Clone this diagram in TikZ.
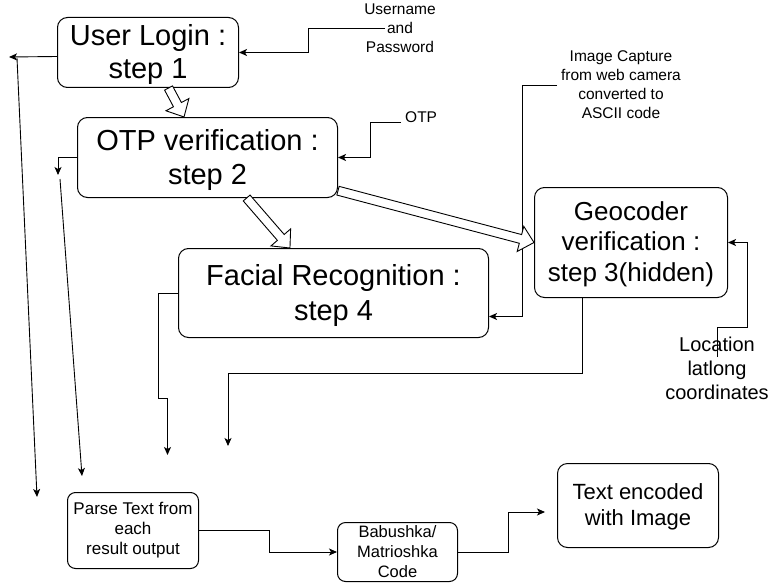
\documentclass[tikz,border=0pt]{standalone}
\usepackage{fontspec}
\setmainfont{Liberation Sans}
\usetikzlibrary{arrows.meta,calc}
\tikzset{
 box/.style={draw, line width=1pt, rounded corners=10pt, align=center, inner sep=0pt, anchor=north west},
 lbl/.style={align=center, inner sep=0pt},
 conn/.style={line width=0.9pt, -{Stealth[length=8pt,width=7pt,inset=2pt]}},
 flexst/.style={draw, fill=white, line width=0.9pt, line join=miter},
}
\newcommand\sdn[2]{\raisebox{-#1}[\height][\depth]{\begin{tabular}{@{}c@{}}#2\end{tabular}}}
\newcommand\flexarr[2]{%
 \coordinate (fa-c) at ($(#2)!14pt!(#1)$);
 \draw[flexst] ($(#1)!4.5pt!90:(#2)$) -- ($(fa-c)!4.5pt!90:(#2)$) -- ($(fa-c)!13pt!90:(#2)$) -- (#2)
   -- ($(fa-c)!13pt!-90:(#2)$) -- ($(fa-c)!4.5pt!-90:(#2)$) -- ($(#1)!4.5pt!-90:(#2)$) -- cycle;
}
\begin{document}
\begin{tikzpicture}[x=1pt,y=-1pt]
\useasboundingbox (0,0) rectangle (770,583);
% boxes
\node[box, minimum width=181pt, minimum height=70pt, font=\fontsize{29}{33}\selectfont] (login) at (57,17) {\sdn{3pt}{User Login :\\step 1}};
\node[box, minimum width=260pt, minimum height=80pt, font=\fontsize{29}{34}\selectfont] (otp) at (77,117) {\sdn{3pt}{OTP verification :\\step 2}};
\node[box, minimum width=310pt, minimum height=89pt, font=\fontsize{29}{35}\selectfont] (face) at (178,248) {\sdn{2.5pt}{Facial Recognition :\\step 4}};
\node[box, minimum width=193pt, minimum height=110pt, font=\fontsize{26}{30.5}\selectfont] (geo) at (534,187) {\sdn{2pt}{Geocoder\\verification :\\step 3(hidden)}};
\node[box, rounded corners=8pt, minimum width=131pt, minimum height=76pt, font=\fontsize{17}{20}\selectfont] (parse) at (67,492) {Parse Text from\\each\\ result output};
\node[box, rounded corners=8pt, minimum width=120pt, minimum height=59pt, font=\fontsize{16.5}{20}\selectfont] (babu) at (337,522) {Babushka/\\Matrioshka\\Code};
\node[box, minimum width=161pt, minimum height=84pt, font=\fontsize{22}{26}\selectfont] (enc) at (557,463) {\sdn{2pt}{Text encoded\\with Image}};
% labels
\node[lbl, font=\fontsize{15.5}{19}\selectfont] (lu) at (400,28) {Username\\and\\Password};
\node[lbl, font=\fontsize{15.5}{19}\selectfont, anchor=west] (lo) at (405,117) {OTP};
\node[lbl, font=\fontsize{15.5}{19}\selectfont] (li) at (621,84.5) {Image Capture\\from web camera\\converted to\\ASCII code};
\node[lbl, font=\fontsize{20}{24}\selectfont] (ll) at (717,368) {Location\\latlong\\coordinates};
% free ends and attachment points
\coordinate (u0) at (385,28);
\coordinate (o0) at ([xshift=-4pt,yshift=-5pt]lo.west);
\coordinate (i0) at (557,85);
\coordinate (l0) at (717,357);
\coordinate (c1) at (9,57);
\coordinate (c2) at (17,58);
\coordinate (c3) at (37,497);
\coordinate (c4) at (58,175);
\coordinate (c5) at (60,179);
\coordinate (c6) at (82,476);
\coordinate (c7) at (167.5,455);
\coordinate (c8) at (228,446);
\coordinate (c9) at (545,512);
\coordinate (g0) at ([xshift=-48.5pt]geo.south);
\coordinate (f0) at ([yshift=-23.5pt]face.east);
% connectors
\draw[conn] (u0) -- ++(-77,0) |- (login.east);
\draw[conn] (o0) -- ++(-31,0) |- (otp.east);
\draw[conn] ([yshift=-4pt]login.west) -- (c1);
\draw[conn] (c2) -- (c3);
\draw[conn] (otp.west) -| (c4);
\draw[conn] (c5) -- (c6);
\draw[conn] (face.west) -- ++(-20,0) -- ++(0,105) -| (c7);
\draw[conn] (g0) -- ++(0,75) -| (c8);
\draw[conn] (i0) -- ++(-35,0) |- (f0);
\draw[conn] (l0) -- ++(0,-30) -- ++(30,0) |- (geo.east);
\draw[conn] (parse.east) -- ++(70,0) |- (babu.west);
\draw[conn] (babu.east) -- ++(50,0) |- (c9);
% hollow block arrows
\coordinate (a1s) at ($(login.south west)!0.613!(login.south east)$);
\coordinate (a1e) at ($(otp.north west)!0.41!(otp.north east)$);
\coordinate (a2s) at ($(otp.south west)!0.65!(otp.south east)$);
\coordinate (a2e) at ($(face.north west)!0.36!(face.north east)$);
\coordinate (a3s) at ($(otp.north east)!0.91!(otp.south east)$);
\flexarr{a1s}{a1e}
\flexarr{a2s}{a2e}
\flexarr{a3s}{geo.west}
\end{tikzpicture}
\end{document}
